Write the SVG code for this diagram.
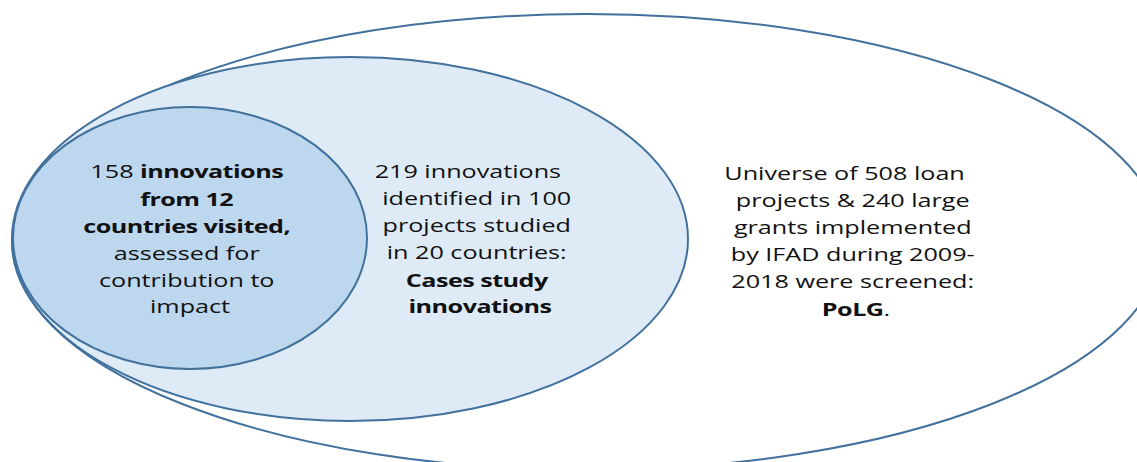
<svg xmlns="http://www.w3.org/2000/svg" width="1137" height="462" viewBox="0 0 1137 462">
<style>
.ell{stroke:#41719c;stroke-width:2}
.t{font-family:"Open Sans","Noto Sans","Liberation Sans",sans-serif;font-size:18.5px;fill:#111;text-anchor:middle}
.b{font-weight:bold;letter-spacing:-0.4px}
</style>
<rect width="1137" height="462" fill="#ffffff"/>
<g id="node-polg">
<ellipse class="ell" cx="587" cy="242" rx="575" ry="228" fill="#ffffff"/>
<text class="t" transform="translate(856,0) scale(1.36,1)">
<tspan x="-6" y="180">Universe of 508 loan</tspan>
<tspan x="0" y="207">projects &amp; 240 large</tspan>
<tspan x="0" y="234">grants implemented</tspan>
<tspan x="0" y="261">by IFAD during 2009-</tspan>
<tspan x="0" y="288">2018 were screened:</tspan>
<tspan x="0" y="316"><tspan class="b">PoLG</tspan>.</tspan>
</text>
</g>
<g id="node-cases">
<ellipse class="ell" cx="350" cy="239" rx="338" ry="182" fill="#deebf7"/>
<text class="t" transform="translate(480,0) scale(1.36,1)">
<tspan x="-6.5" y="178">219 innovations</tspan>
<tspan x="0" y="205">identified in 100</tspan>
<tspan x="0" y="232">projects studied</tspan>
<tspan x="0" y="259">in 20 countries:</tspan>
<tspan x="0" y="287" class="b">Cases study</tspan>
<tspan x="0" y="313" class="b">innovations</tspan>
</text>
</g>
<g id="node-visited">
<ellipse class="ell" cx="190" cy="238" rx="177" ry="131" fill="#bdd7ee"/>
<text class="t" transform="translate(190,0) scale(1.36,1)">
<tspan x="0" y="178">158 <tspan class="b">innovations</tspan></tspan>
<tspan x="0" y="206" class="b">from 12</tspan>
<tspan x="0" y="233" class="b">countries visited,</tspan>
<tspan x="0" y="260">assessed for</tspan>
<tspan x="0" y="287">contribution to</tspan>
<tspan x="0" y="313">impact</tspan>
</text>
</g>
<g id="connectors"></g>
</svg>
